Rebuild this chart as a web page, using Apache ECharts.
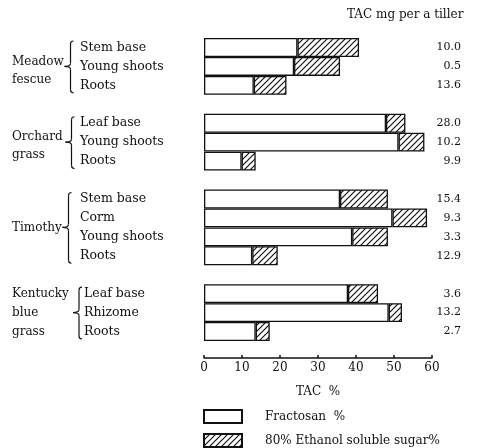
<!DOCTYPE html>
<html>
<head>
<meta charset="utf-8">
<script src="https://cdn.jsdelivr.net/npm/echarts@6/dist/echarts.min.js"></script>
<style>
html,body{margin:0;padding:0;background:#fff;}
#c{width:487px;height:448px;}
</style>
</head>
<body>
<div id="c"></div>
<script>
// ---- data ----
const groups = ['Meadow\nfescue', 'Orchard\ngrass', 'Timothy', 'Kentucky\nblue\ngrass'];
const parts = [
  ['Stem base', 'Young shoots', 'Roots'],
  ['Leaf base', 'Young shoots', 'Roots'],
  ['Stem base', 'Corm', 'Young shoots', 'Roots'],
  ['Leaf base', 'Rhizome', 'Roots']
];
const fructosan = [
  [24.6, 23.7, 13.1],
  [47.9, 51.2, 9.9],
  [35.8, 49.6, 39.0, 12.7],
  [37.9, 48.6, 13.6]
];
const ethanolSugar = [
  [16.2, 12.1, 8.6],
  [5.1, 6.8, 3.7],
  [12.6, 9.1, 9.4, 6.7],
  [7.9, 3.5, 3.7]
];
const tacMgPerTiller = [
  ['10.0', '0.5', '13.6'],
  ['28.0', '10.2', '9.9'],
  ['15.4', '9.3', '3.3', '12.9'],
  ['3.6', '13.2', '2.7']
];
const seriesNames = ['Fractosan  %', '80% Ethanol soluble sugar%'];
const xAxisName = 'TAC  %';
const headerText = 'TAC mg per a tiller';

// ---- layout (not data) ----
const FONT = 'DejaVu Serif';
const braceX = [70.5, 71.5, 68.5, 79];
const labelShift = [4, 4, 0, 0];
const indentGroup = 3; // Kentucky items sit a bit further right

// flatten with a blank slot between groups
const cats = [], rightCats = [], fData = [], eData = [], groupRanges = [], catGroup = [];
groups.forEach((g, gi) => {
  const start = cats.length;
  parts[gi].forEach((p, pi) => {
    cats.push(p);
    catGroup.push(gi);
    rightCats.push(tacMgPerTiller[gi][pi]);
    fData.push(fructosan[gi][pi]);
    eData.push(ethanolSugar[gi][pi]);
  });
  groupRanges.push([start, cats.length - 1]);
  if (gi < groups.length - 1) {
    cats.push(''); catGroup.push(-1); rightCats.push(''); fData.push(null); eData.push(null);
  }
});

// hatch pattern
const pc = document.createElement('canvas');
pc.width = 6; pc.height = 6;
const ctx = pc.getContext('2d');
ctx.fillStyle = '#fff'; ctx.fillRect(0, 0, 6, 6);
ctx.strokeStyle = '#111'; ctx.lineWidth = 1.2;
ctx.beginPath();
ctx.moveTo(0, 6); ctx.lineTo(6, 0);
ctx.moveTo(-1, 1); ctx.lineTo(1, -1);
ctx.moveTo(5, 7); ctx.lineTo(7, 5);
ctx.stroke();

const chart = echarts.init(document.getElementById('c'), null, {renderer: 'canvas'});
const gridTop = 38, gridH = 303;
const option = {
  animation: false,
  backgroundColor: '#fff',
  textStyle: {fontFamily: FONT, color: '#111'},
  grid: {left: 204, top: gridTop, width: 228, height: gridH},
  xAxis: {
    type: 'value', min: 0, max: 60, interval: 10,
    offset: 17,
    axisLine: {show: true, lineStyle: {color: '#111', width: 1.5}},
    axisTick: {show: true, inside: true, length: 3, lineStyle: {color: '#111', width: 1.5}},
    axisLabel: {fontFamily: FONT, fontSize: 12, color: '#111', margin: 4},
    splitLine: {show: false},
    name: xAxisName, nameLocation: 'middle', nameGap: 28,
    nameTextStyle: {fontFamily: FONT, fontSize: 12, color: '#111'}
  },
  yAxis: [{
    type: 'category', data: cats, inverse: true,
    axisLine: {show: false}, axisTick: {show: false}, splitLine: {show: false},
    axisLabel: {
      align: 'left', margin: 124, fontFamily: FONT, fontSize: 12.5, color: '#111', interval: 0,
      formatter: (v, i) => catGroup[i] === indentGroup ? '{k|' + v + '}' : v,
      rich: {k: {fontFamily: FONT, fontSize: 12.5, color: '#111', padding: [0, 0, 0, 4]}}
    }
  }, {
    type: 'category', data: rightCats, inverse: true, position: 'right',
    axisLine: {show: false}, axisTick: {show: false}, splitLine: {show: false},
    axisLabel: {align: 'right', margin: 29, fontFamily: FONT, fontSize: 11, color: '#111', interval: 0}
  }],
  legend: {
    orient: 'vertical', left: 203, top: 409, padding: 0,
    itemWidth: 38, itemHeight: 13, itemGap: 9,
    icon: 'rect',
    textStyle: {fontFamily: FONT, fontSize: 12, lineHeight: 13, color: '#111', padding: [0, 0, 0, 18]},
    data: seriesNames
  },
  series: [{
    name: seriesNames[0], type: 'bar', stack: 'tac', data: fData,
    barCategoryGap: '0%',
    itemStyle: {color: '#fff', borderColor: '#111', borderWidth: 1.3}
  }, {
    name: seriesNames[1], type: 'bar', stack: 'tac', data: eData,
    barCategoryGap: '0%',
    itemStyle: {color: {image: pc, repeat: 'repeat'}, borderColor: '#111', borderWidth: 1.3}
  }]
};
chart.setOption(option);

// group labels and braces
const slot = gridH / cats.length;
const graphics = [];
graphics.push({
  type: 'text', x: 347, y: 9,
  style: {text: headerText, font: '12px "' + FONT + '"', fill: '#111'}
});
const ls = {stroke: '#111', lineWidth: 1.2, fill: null};
groupRanges.forEach((r, gi) => {
  const yTop = chart.convertToPixel({yAxisIndex: 0}, r[0]) - slot / 2;
  const yBot = chart.convertToPixel({yAxisIndex: 0}, r[1]) + slot / 2;
  const ym = (yTop + yBot) / 2;
  const lines = groups[gi].split('\n');
  const lh = lines.length === 3 ? slot : 18;
  graphics.push({
    type: 'text', x: 12, y: ym + labelShift[gi],
    style: {
      text: groups[gi], font: '12px "' + FONT + '"', fill: '#111',
      lineHeight: lh, verticalAlign: 'middle', align: 'left'
    }
  });
  const x = braceX[gi], y1 = yTop + 3, y2 = yBot - 2, c = 3, t = 6;
  graphics.push({type: 'bezierCurve', shape: {x1: x + c, y1: y1, x2: x, y2: y1 + c, cpx1: x, cpy1: y1}, style: ls});
  graphics.push({type: 'line', shape: {x1: x, y1: y1 + c, x2: x, y2: ym - c}, style: ls});
  graphics.push({type: 'bezierCurve', shape: {x1: x, y1: ym - c, x2: x - t, y2: ym, cpx1: x, cpy1: ym}, style: ls});
  graphics.push({type: 'bezierCurve', shape: {x1: x - t, y1: ym, x2: x, y2: ym + c, cpx1: x, cpy1: ym}, style: ls});
  graphics.push({type: 'line', shape: {x1: x, y1: ym + c, x2: x, y2: y2 - c}, style: ls});
  graphics.push({type: 'bezierCurve', shape: {x1: x, y1: y2 - c, x2: x + c, y2: y2, cpx1: x, cpy1: y2}, style: ls});
});
chart.setOption({graphic: graphics});
</script>
</body>
</html>
